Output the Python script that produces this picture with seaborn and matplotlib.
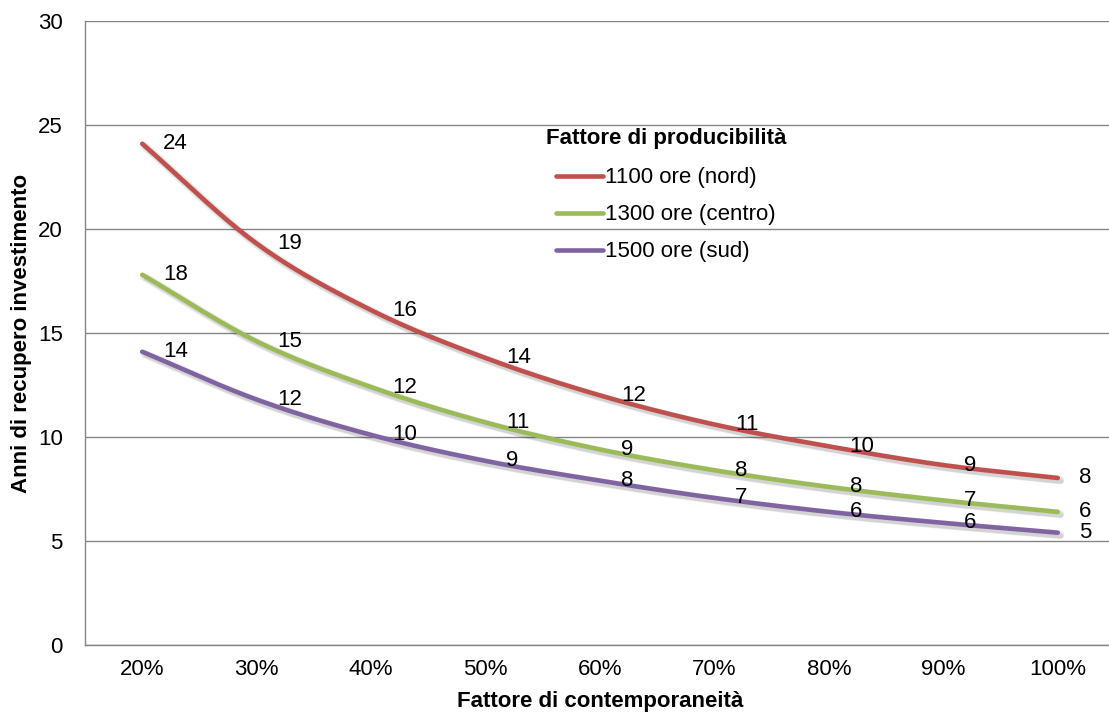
import numpy as np
import pandas as pd
import seaborn as sns
import matplotlib.pyplot as plt
import matplotlib.patheffects as pe

# --- data ---
categorie = ["20%", "30%", "40%", "50%", "60%", "70%", "80%", "90%", "100%"]
nord = [24.1, 19.3, 16.1, 13.8, 12.0, 10.6, 9.55, 8.65, 8.03]
centro = [17.8, 14.6, 12.4, 10.7, 9.4, 8.4, 7.6, 6.95, 6.4]
sud = [14.1, 11.8, 10.1, 8.85, 7.9, 7.07, 6.4, 5.87, 5.4]
serie = ["1100 ore (nord)", "1300 ore (centro)", "1500 ore (sud)"]
colori = ["#C0504D", "#9BBB59", "#8064A2"]


def smooth(ys, n=24, tension=1.0):
    """Cardinal spline smoothing, similar to Excel's smoothed lines."""
    ys = np.asarray(ys, dtype=float)
    p = np.concatenate([[2 * ys[0] - ys[1]], ys, [2 * ys[-1] - ys[-2]]])
    xs_out, ys_out = [], []
    for i in range(len(ys) - 1):
        p0, p1, p2, p3 = p[i], p[i + 1], p[i + 2], p[i + 3]
        m1 = tension * (p2 - p0) / 2
        m2 = tension * (p3 - p1) / 2
        t = np.linspace(0, 1, n, endpoint=False)
        h00 = 2 * t**3 - 3 * t**2 + 1
        h10 = t**3 - 2 * t**2 + t
        h01 = -2 * t**3 + 3 * t**2
        h11 = t**3 - t**2
        xs_out.extend(i + t)
        ys_out.extend(h00 * p1 + h10 * m1 + h01 * p2 + h11 * m2)
    xs_out.append(len(ys) - 1)
    ys_out.append(ys[-1])
    return np.array(xs_out), np.array(ys_out)


frames = []
for nome, vals in zip(serie, [nord, centro, sud]):
    sx, sy = smooth(vals)
    frames.append(pd.DataFrame({"x": sx, "y": sy, "serie": nome}))
df = pd.concat(frames, ignore_index=True)

sns.set_style("white")
plt.rcParams["font.family"] = ["Liberation Sans", "DejaVu Sans"]
plt.rcParams["text.color"] = "black"
plt.rcParams["axes.labelcolor"] = "black"
fs = 16

fig = plt.figure(figsize=(11.09, 7.15), dpi=100)
ax = fig.add_axes([85 / 1109, 70 / 715, 1030 / 1109, 624 / 715])

sns.lineplot(data=df, x="x", y="y", hue="serie", palette=colori, sort=False,
             linewidth=3.3, ax=ax, legend=True)

# soft drop shadow under the lines
shadow = [pe.SimpleLineShadow(offset=(o, -o), shadow_color="black", alpha=0.06, linewidth=3.3 + w)
          for o, w in [(1.5, 3), (2, 1.5), (2.5, 0)]]
for line in ax.lines:
    line.set_solid_capstyle("round")
    line.set_path_effects(shadow + [pe.Normal()])

# data labels to the right of each point
for vals in [nord, centro, sud]:
    for i, v in enumerate(vals):
        ax.annotate(f"{v:.0f}", (i, v), xytext=(15, 0), textcoords="offset points",
                    ha="left", va="center", fontsize=fs, color="black")

ax.set_xlim(-0.5, len(categorie) - 0.5)
ax.set_ylim(0, 30)
ax.set_yticks(range(0, 31, 5))
ax.set_xticks(range(len(categorie)))
ax.set_xticklabels(categorie)
ax.set_xticks(np.arange(-0.5, len(categorie), 1), minor=True)
ax.tick_params(axis="x", which="major", length=0, pad=10, labelsize=fs, labelcolor="black")
ax.tick_params(axis="x", which="minor", length=7, width=1, color="#868686", direction="out")
ax.tick_params(axis="y", length=7, width=1, color="#868686", direction="out", labelsize=fs,
               pad=9, labelcolor="black")

ax.yaxis.grid(True, color="#868686", linewidth=1)
ax.xaxis.grid(False)
for s in ["top", "right"]:
    ax.spines[s].set_visible(False)
for s in ["left", "bottom"]:
    ax.spines[s].set_color("#868686")
    ax.spines[s].set_linewidth(1)

ax.set_xlabel("Fattore di contemporaneità", fontsize=fs, fontweight="bold", labelpad=8)
ax.set_ylabel("Anni di recupero investimento", fontsize=fs, fontweight="bold", labelpad=4)

handles, labels = ax.get_legend_handles_labels()
for h in handles:
    h.set_linewidth(3.3)
    h.set_path_effects([])
leg = ax.legend(handles, labels, title="Fattore di producibilità", loc="upper left",
                bbox_to_anchor=(0.432, 0.853), frameon=False, fontsize=fs,
                title_fontproperties={"weight": "bold", "size": fs},
                handlelength=2.1, handletextpad=0.1, labelspacing=0.72, borderpad=0.2)
leg._legend_box.sep = 13

fig.savefig("out.png", dpi=100, facecolor="white")
